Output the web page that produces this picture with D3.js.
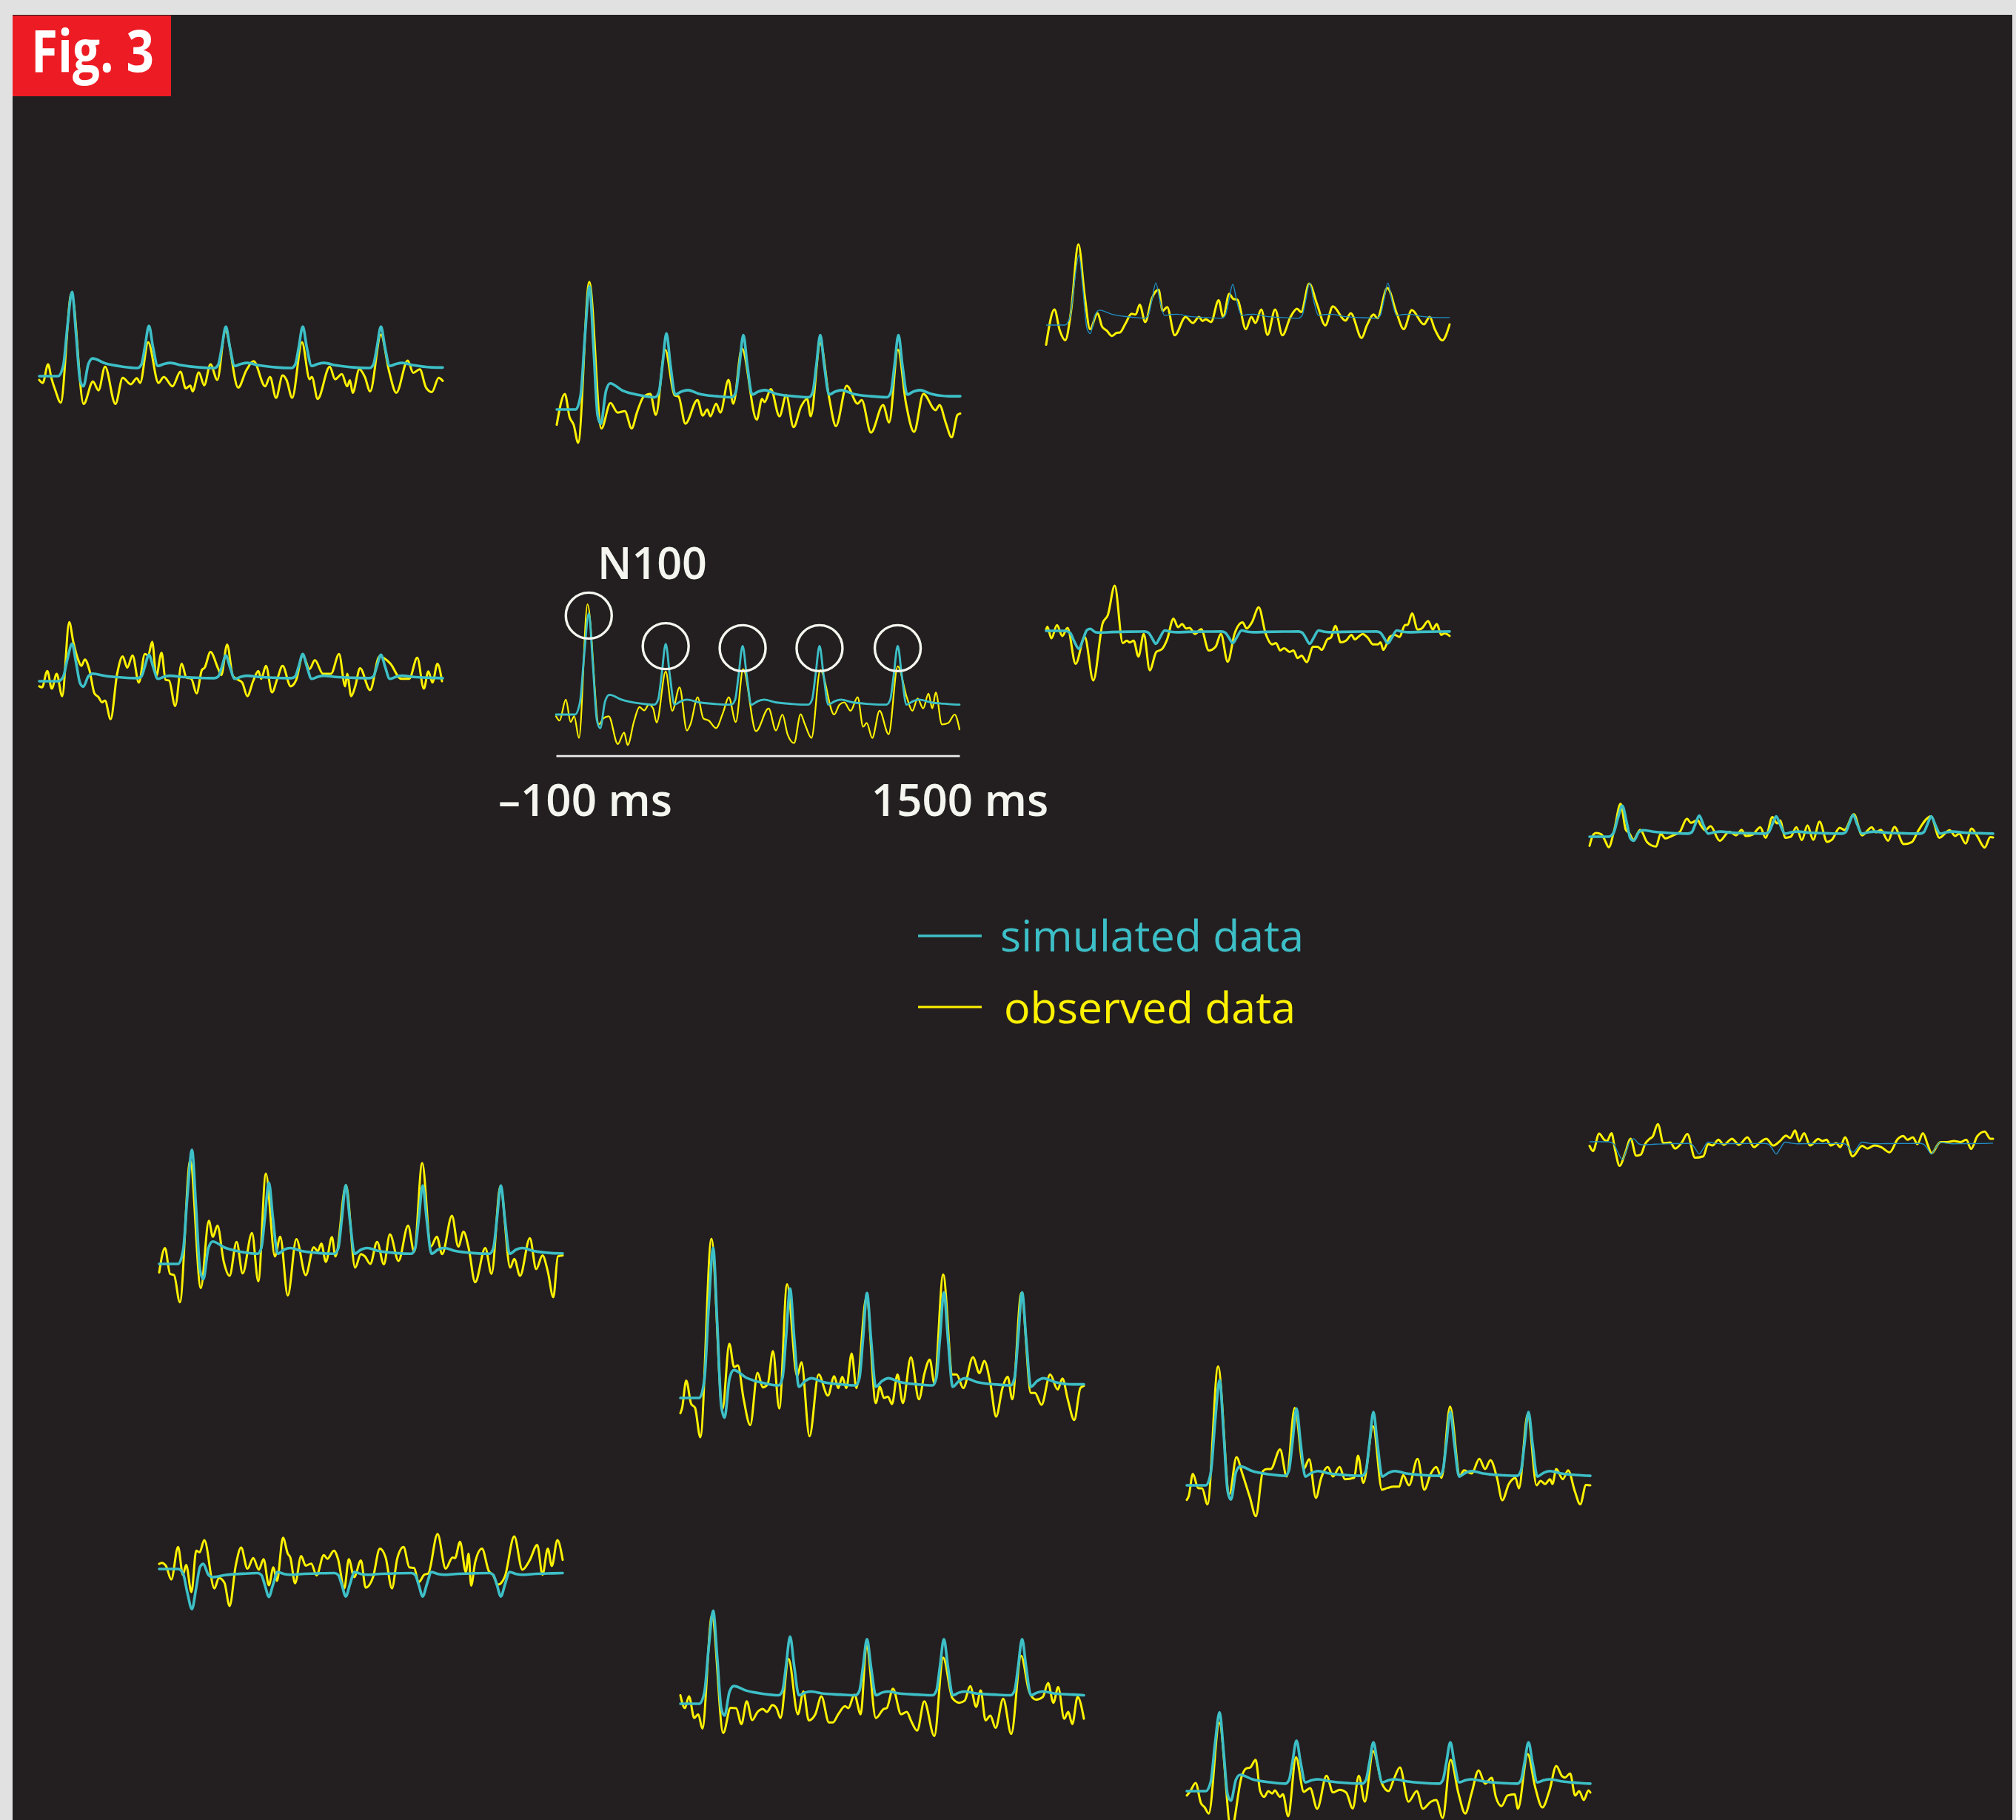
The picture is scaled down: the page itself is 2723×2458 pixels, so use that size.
<!DOCTYPE html>
<html>
<head>
<meta charset="utf-8">
<script src="https://cdn.jsdelivr.net/npm/d3@7/dist/d3.min.js"></script>
<style>
  html, body { margin: 0; padding: 0; background: #e1e1e1; }
  svg { display: block; }
</style>
</head>
<body>
<script>
// ---------------------------------------------------------------------------
// Evoked responses to five tones: simulated (model) vs observed (recorded)
// Time axis in ms (-100 .. 1500), amplitude in arbitrary units (µV-like).
// ---------------------------------------------------------------------------

// Sample times of the simulated waveforms (shared by every channel)
const simTimes = [-100, -25, -5, 12, 30, 46, 62, 75, 95, 112, 160, 230,
  290, 305, 319, 335, 351, 370, 395, 420, 465, 535,
  595, 610, 624, 640, 656, 675, 700, 725, 770, 840,
  900, 915, 929, 945, 961, 980, 1005, 1030, 1075, 1145,
  1210, 1225, 1239, 1255, 1271, 1290, 1315, 1340, 1385, 1455, 1500];

// N100 latencies that are circled on the reference channel
const n100Times = [30, 335, 640, 945, 1255];

// Simulated data, one array per channel
const sim1 = [0,0,1.5,7.4,12.4,6.2,-0.6,-1.5,1.8,2.6,1.9,1.4,
  1.2,1.7,4.3,7.4,4.3,1.5,1.8,1.95,1.6,1.3,
  1.2,1.7,4.25,7.3,4.25,1.5,1.8,1.95,1.6,1.3,
  1.2,1.7,4.25,7.3,4.25,1.5,1.8,1.95,1.6,1.3,
  1.2,1.7,4.25,7.3,4.25,1.5,1.8,1.95,1.6,1.3,
  1.27];
const sim2 = [0,0,2.2,10.9,18.1,9.0,-0.85,-2.1,2.7,3.85,2.8,2.1,
  1.8,2.55,6.5,11.2,6.5,2.2,2.65,2.85,2.3,1.95,
  1.8,2.55,6.4,10.95,6.4,2.2,2.65,2.85,2.3,1.95,
  1.8,2.55,6.4,10.95,6.4,2.2,2.65,2.85,2.3,1.95,
  1.8,2.55,6.4,10.95,6.4,2.2,2.65,2.85,2.3,1.95,
  1.95];
const sim3 = [0,0,1.25,6.2,10.3,5.15,-0.5,-1.25,1.55,2.2,1.6,1.2,
  1.0,1.4,3.6,6.2,3.6,1.4,1.55,1.6,1.3,1.1,
  1.0,1.4,3.5,6.0,3.5,1.4,1.55,1.6,1.3,1.1,
  1.0,1.4,3.6,6.2,3.6,1.4,1.55,1.6,1.3,1.1,
  1.0,1.4,3.6,6.2,3.6,1.4,1.55,1.6,1.3,1.1,
  1.1];
const sim4 = [0,0,0.65,3.3,5.5,2.75,-0.3,-0.8,0.75,1.1,0.8,0.55,
  0.45,0.7,2.2,3.9,2.2,0.35,0.65,0.8,0.62,0.5,
  0.45,0.7,2.1,3.8,2.1,0.35,0.65,0.8,0.62,0.5,
  0.45,0.7,2.2,4.0,2.2,0.35,0.65,0.8,0.62,0.5,
  0.45,0.7,2.2,3.9,2.2,0.35,0.65,0.8,0.62,0.5,
  0.45];
const sim5 = [0,0,1.8,8.9,14.9,7.45,-0.8,-2.0,2.0,2.9,2.2,1.65,
  1.45,2.2,5.9,10.4,5.9,1.45,1.95,2.2,1.8,1.55,
  1.45,2.15,5.8,10.1,5.8,1.45,1.95,2.2,1.8,1.55,
  1.45,2.15,5.8,10.1,5.8,1.45,1.95,2.2,1.8,1.55,
  1.45,2.15,5.8,10.1,5.8,1.45,1.95,2.2,1.8,1.55,
  1.45];
const sim6 = [0,0,-0.3,-1.6,-2.65,-1.3,0.12,0.3,-0.18,-0.25,-0.18,-0.12,
  -0.1,-0.25,-1.0,-1.9,-1.0,0.05,-0.13,-0.2,-0.15,-0.11,
  -0.1,-0.25,-0.95,-1.8,-0.95,0.05,-0.13,-0.2,-0.15,-0.11,
  -0.1,-0.25,-1.0,-1.9,-1.0,0.05,-0.13,-0.2,-0.15,-0.11,
  -0.1,-0.25,-0.98,-1.85,-0.98,0.05,-0.13,-0.2,-0.15,-0.11,
  -0.1];
const sim7 = [0,0,0.55,2.7,4.55,2.3,-0.25,-0.6,0.65,0.95,0.7,0.52,
  0.45,0.65,1.8,3.1,1.8,0.45,0.65,0.75,0.6,0.5,
  0.45,0.65,1.75,3.0,1.75,0.45,0.65,0.75,0.6,0.5,
  0.45,0.65,1.85,3.2,1.85,0.45,0.65,0.75,0.6,0.5,
  0.45,0.65,1.75,3.0,1.75,0.45,0.65,0.75,0.6,0.5,
  0.45];
const sim8 = [0,0,-0.3,-1.55,-2.6,-1.3,0.18,0.45,-0.3,-0.45,-0.35,-0.28,
  -0.25,-0.37,-1.0,-1.8,-1.0,-0.05,-0.2,-0.3,-0.28,-0.26,
  -0.25,-0.37,-1.0,-1.8,-1.0,-0.05,-0.2,-0.3,-0.28,-0.26,
  -0.25,-0.35,-0.9,-1.55,-0.9,-0.05,-0.2,-0.3,-0.28,-0.26,
  -0.25,-0.37,-1.0,-1.8,-1.0,-0.05,-0.2,-0.3,-0.28,-0.26,
  -0.2];
const sim9 = [0,0,2.0,10.1,16.8,8.4,-0.9,-2.25,2.3,3.3,2.4,1.75,
  1.5,2.35,6.75,12.0,6.75,1.5,2.1,2.35,1.9,1.6,
  1.5,2.3,6.55,11.6,6.55,1.5,2.1,2.35,1.9,1.6,
  1.5,2.3,6.5,11.55,6.5,1.5,2.1,2.35,1.9,1.6,
  1.5,2.3,6.5,11.55,6.5,1.5,2.1,2.35,1.9,1.6,
  1.55];
const sim10 = [0,0,2.65,13.3,22.1,11.05,-1.15,-2.9,2.9,4.1,3.0,2.2,
  1.85,3.0,9.0,16.1,9.0,1.65,2.5,2.9,2.35,2.0,
  1.85,2.95,8.65,15.45,8.65,1.65,2.5,2.9,2.35,2.0,
  1.85,2.95,8.7,15.55,8.7,1.65,2.5,2.9,2.35,2.0,
  1.85,2.95,8.7,15.55,8.7,1.65,2.5,2.9,2.35,2.0,
  2.0];
const sim11 = [0,0,1.85,9.3,15.5,7.75,-0.85,-2.1,1.95,2.8,2.1,1.6,
  1.4,2.2,6.35,11.3,6.35,1.3,1.85,2.1,1.75,1.5,
  1.4,2.15,6.1,10.8,6.1,1.3,1.85,2.1,1.75,1.5,
  1.4,2.15,6.1,10.8,6.1,1.3,1.85,2.1,1.75,1.5,
  1.4,2.15,6.1,10.8,6.1,1.3,1.85,2.1,1.75,1.5,
  1.4];
const sim12 = [0,0,-0.7,-3.55,-5.9,-2.95,0.3,0.75,-0.85,-1.2,-0.9,-0.7,
  -0.6,-0.88,-2.35,-4.1,-2.35,-0.45,-0.73,-0.85,-0.73,-0.64,
  -0.6,-0.88,-2.3,-4.05,-2.3,-0.45,-0.73,-0.85,-0.73,-0.64,
  -0.6,-0.88,-2.3,-4.05,-2.3,-0.45,-0.73,-0.85,-0.73,-0.64,
  -0.6,-0.88,-2.3,-4.05,-2.3,-0.45,-0.73,-0.85,-0.73,-0.64,
  -0.6];
const sim13 = [0,0,1.65,8.2,13.7,6.85,-0.7,-1.75,1.8,2.6,1.95,1.45,
  1.25,1.95,5.6,9.9,5.6,1.25,1.65,1.8,1.5,1.35,
  1.25,1.9,5.4,9.5,5.4,1.25,1.65,1.8,1.5,1.35,
  1.25,1.9,5.4,9.5,5.4,1.25,1.65,1.8,1.5,1.35,
  1.25,1.9,5.4,9.5,5.4,1.25,1.65,1.8,1.5,1.35,
  1.25];
const sim14 = [0,0,1.4,7.0,11.6,5.8,-0.55,-1.4,1.7,2.4,1.75,1.3,
  1.1,1.6,4.3,7.45,4.3,1.3,1.6,1.75,1.45,1.2,
  1.1,1.6,4.15,7.2,4.15,1.3,1.6,1.75,1.45,1.2,
  1.1,1.6,4.15,7.2,4.15,1.3,1.6,1.75,1.45,1.2,
  1.1,1.6,4.15,7.2,4.15,1.3,1.6,1.75,1.45,1.2,
  1.1];

// Observed data, [time ms, amplitude] at each turning point
const obs1 = [[-100,-0.55],[-86,-1.0],[-65,1.75],[-52,-0.25],[-36,-2.1],[-15,-3.9],[28,12.2],[76,-4.1],[113,-0.8],[135,-2.1],[161,1.4],[202,-4.1],[231,-0.25],[263,-1.2],[287,-0.3],[300,-1.0],[332,5.0],[373,-1.0],[394,-0.1],[428,-1.5],[460,0.65],[481,-1.8],[499,-1.4],[508,-2.25],[533,0.55],[554,-1.35],[579,1.75],[606,-0.55],[638,6.65],[689,-1.7],[721,0.85],[750,2.2],[796,-1.5],[815,-0.1],[839,-3.2],[865,0.1],[881,-0.6],[903,-3.2],[942,5.0],[972,-0.45],[981,-0.1],[1004,-3.35],[1052,1.4],[1073,-0.45],[1100,0.3],[1121,-1.5],[1132,-0.6],[1143,-2.45],[1169,1.0],[1191,-0.1],[1212,-2.25],[1255,6.1],[1287,0.75],[1316,-2.45],[1361,2.3],[1383,0.5],[1409,1.0],[1434,-1.7],[1457,-2.35],[1484,-0.25],[1500,-0.7]];
const obs2 = [[-100,-2.25],[-68,2.3],[-49,-1.15],[-33,-2.25],[-15,-4.9],[29,18.8],[77,-2.8],[113,0.95],[141,-0.45],[170,-0.25],[197,-2.8],[218,-0.45],[245,1.9],[271,2.3],[293,-0.8],[330,8.8],[367,2.1],[383,1.9],[410,-2.1],[458,1.4],[479,-0.9],[497,0],[509,-1.0],[532,0.85],[549,-0.45],[581,4.35],[600,0.85],[634,9.0],[693,-1.5],[714,1.55],[724,1.1],[749,3.0],[783,-1.0],[810,2.1],[839,-2.6],[869,0.45],[893,1.55],[907,-1.0],[945,9.75],[980,1.75],[1007,-2.45],[1050,3.5],[1093,0.85],[1109,1.4],[1146,-3.4],[1194,0.65],[1218,-1.9],[1253,8.8],[1285,0.85],[1317,-3.3],[1354,2.3],[1402,-0.1],[1418,0.65],[1442,-1.9],[1466,-4.1],[1489,-0.8],[1500,-0.6]];
const obs3 = [[-100,-2.9],[-67,2.3],[-46,-0.8],[-24,-2.25],[-1,2.1],[28,11.9],[53,4.3],[74,-0.6],[104,1.75],[122,-0.25],[140,-0.8],[161,-1.6],[180,-1.15],[193,-1.1],[213,0.1],[239,1.65],[255,1.55],[271,3.0],[293,0.45],[319,3.9],[346,5.2],[362,2.1],[380,2.65],[410,-1.5],[453,1.2],[482,0.3],[506,1.2],[520,0.6],[533,0.85],[554,0.45],[584,3.65],[602,1.2],[626,4.6],[642,3.85],[658,3.75],[692,-0.6],[714,1.2],[730,0.3],[753,2.3],[778,-1.45],[808,2.3],[837,-1.5],[869,1.2],[895,2.4],[911,1.9],[943,6.1],[975,3.0],[1007,-0.05],[1037,2.75],[1087,0.65],[1108,1.75],[1151,-1.9],[1172,-0.05],[1199,1.55],[1213,1.0],[1253,5.45],[1290,1.75],[1318,-0.6],[1350,2.2],[1398,0.1],[1421,1.2],[1441,-0.6],[1471,-2.25],[1500,0.1]];
const obs4 = [[-100,-0.75],[-89,-0.9],[-68,1.5],[-50,-1.1],[-31,1.1],[-9,-2.2],[19,8.7],[35,5.8],[55,3.1],[67,2.25],[81,3.2],[99,1.65],[119,-1.8],[135,-2.35],[149,-3.1],[161,-2.85],[183,-5.6],[209,1.1],[231,3.65],[249,2.0],[270,3.8],[295,-0.2],[319,4.0],[332,3.8],[348,5.8],[364,0.75],[385,4.2],[401,0.2],[415,0.1],[439,-3.65],[465,2.6],[483,0.55],[503,0.35],[524,-1.8],[545,1.65],[556,2.0],[579,4.3],[609,1.9],[622,0.9],[645,5.4],[668,0.75],[689,0.2],[705,-0.2],[725,-2.2],[748,0],[769,1.5],[780,0.35],[799,2.25],[823,-1.65],[844,0.35],[865,2.25],[897,-0.75],[919,0.2],[945,3.8],[972,1.8],[993,3.1],[1025,1.1],[1057,1.1],[1089,4.0],[1113,-0.75],[1121,1.1],[1137,-2.2],[1153,-0.75],[1172,1.9],[1212,-1.3],[1249,3.65],[1292,2.6],[1335,0.35],[1367,0.35],[1399,3.45],[1425,-1.1],[1443,1.45],[1459,-0.2],[1479,2.55],[1497,0]];
const obs5 = [[-100,-0.25],[-86,-0.9],[-61,2.2],[-42,-1.1],[-28,-0.25],[-9,-3.45],[25,16.25],[70,-1.45],[88,-0.55],[109,-0.25],[145,-4.35],[170,-2.65],[184,-4.5],[210,-0.9],[231,1.1],[250,0.6],[268,1.45],[285,0.9],[299,-1.2],[335,6.35],[361,0.55],[390,4.0],[419,-2.35],[433,-1.45],[462,2.55],[484,-0.55],[506,-0.9],[534,-2.0],[563,0.35],[585,2.55],[613,-1.1],[642,6.7],[693,-2.45],[743,0.9],[772,-2.35],[798,0],[818,-2.9],[844,-4.2],[870,0.05],[887,-1.45],[913,-3.45],[948,6.55],[1003,0],[1024,1.45],[1043,1.8],[1068,0.55],[1096,2.55],[1118,-1.8],[1132,-1.25],[1154,-3.45],[1183,0.55],[1219,-2.9],[1255,7.1],[1291,2.55],[1313,0.55],[1334,2.35],[1356,0.9],[1377,3.1],[1392,0.9],[1406,3.25],[1430,-1.45],[1455,-1.25],[1481,0],[1500,-2.2]];
const obs6 = [[-100,0.2],[-95,0.6],[-79,-1.1],[-57,0.85],[-36,-0.75],[-15,0.45],[17,-4.85],[53,-0.9],[87,-7.3],[124,1.1],[145,2.35],[172,6.65],[204,-1.8],[220,-1.45],[231,-1.7],[247,-1.45],[266,-3.8],[287,-0.45],[311,-5.8],[337,-3.1],[359,-2.7],[380,-1.25],[405,1.8],[423,0.55],[439,1.0],[455,0.35],[469,0.45],[490,-0.45],[515,0.25],[545,-2.9],[572,-2.35],[593,-0.45],[620,-4.55],[647,-0.45],[679,1.25],[695,0.35],[716,1.25],[743,3.45],[770,-0.35],[796,-2.0],[812,-1.8],[828,-2.9],[844,-2.55],[865,-3.1],[881,-2.9],[897,-4.0],[913,-3.65],[933,-4.6],[959,-2.35],[977,-2.35],[993,-2.8],[1015,-1.25],[1029,-1.0],[1047,0.75],[1068,-1.7],[1089,-1.45],[1111,-0.6],[1124,-1.25],[1139,-0.85],[1155,-0.45],[1175,-1.0],[1196,-2.0],[1215,-2.0],[1226,-1.7],[1237,-2.8],[1264,-0.85],[1283,-0.6],[1301,-0.9],[1323,0.85],[1334,0.9],[1351,2.55],[1373,0.2],[1389,0.35],[1415,1.45],[1433,0.2],[1449,1.0],[1467,-0.6],[1480,-0.35],[1500,-0.75]];
const obs7 = [[-100,-1.35],[-84,0.35],[-73,0.55],[-53,0.35],[-40,-0.45],[-24,-1.55],[-2,1.0],[23,4.85],[44,1.0],[57,0.55],[74,-0.45],[101,1.0],[128,-0.8],[144,-1.25],[164,-1.45],[182,0.45],[201,-0.25],[220,0],[242,0.35],[258,0.7],[286,2.65],[302,2.05],[329,2.45],[340,1.75],[359,0.95],[380,1.55],[416,-0.6],[454,0.75],[481,0.2],[503,1.0],[519,0.1],[546,0.3],[577,1.4],[598,-0.15],[625,2.9],[644,1.95],[655,2.4],[677,-0.15],[698,0],[720,1.4],[742,-0.5],[764,1.65],[787,-0.45],[812,2.2],[842,-0.75],[861,-0.45],[892,1.3],[911,1.0],[948,3.3],[981,0.2],[1019,1.4],[1035,0.65],[1055,1.0],[1084,-0.6],[1109,1.45],[1146,-1.1],[1178,-0.8],[1203,0.85],[1254,3.0],[1287,-0.15],[1328,0.95],[1350,0.1],[1366,0.45],[1391,-1.0],[1415,1.2],[1437,0.1],[1467,-1.6],[1489,-0.05],[1500,-0.1]];
const obs8 = [[-100,-0.6],[-86,-1.35],[-62,1.2],[-42,0.3],[-31,0.1],[-13,1.25],[2,-1.35],[19,-3.55],[41,-1.7],[63,0.45],[85,-2.05],[103,-1.9],[120,-0.35],[139,0.45],[150,0.75],[171,2.6],[193,-0.2],[220,-0.1],[239,-1.0],[266,-0.1],[288,1.15],[318,-2.35],[351,-2.15],[370,-0.35],[388,-0.55],[411,0.3],[432,-0.45],[465,0.45],[492,-0.45],[526,0.65],[552,-0.8],[573,-0.2],[601,0.45],[628,-0.55],[655,0.1],[679,0.9],[696,0.55],[715,1.65],[731,0.05],[751,1.25],[774,-0.55],[807,0.4],[824,0.1],[840,0.3],[856,-0.55],[878,-0.2],[894,-0.8],[913,0.65],[943,-2.15],[981,-0.6],[1002,-1.0],[1030,-0.55],[1057,-0.8],[1090,-1.55],[1122,0.4],[1144,0.85],[1160,0.3],[1182,0.65],[1200,-0.35],[1222,1.25],[1242,-0.55],[1256,-1.7],[1291,-0.05],[1318,-0.05],[1345,0.1],[1372,-0.05],[1394,0.3],[1413,-1.05],[1438,0.85],[1467,1.5],[1489,0.45],[1500,0.45]];
const obs9 = [[-100,-1.25],[-77,2.35],[-57,-1.45],[-41,-1.65],[-18,-5.65],[23,15.25],[65,-3.55],[97,6.35],[113,4.0],[131,5.65],[156,0.35],[179,-1.75],[207,3.25],[231,-1.4],[268,4.55],[293,-2.55],[323,13.3],[359,1.1],[380,4.0],[410,-4.65],[444,3.65],[481,-1.65],[513,2.45],[529,1.9],[543,3.0],[561,0.3],[585,3.95],[599,1.1],[641,11.6],[677,-0.55],[700,1.45],[716,1.1],[737,0],[764,3.25],[791,-0.05],[815,4.35],[849,0.45],[887,5.65],[911,1.8],[943,14.85],[977,2.55],[1001,4.0],[1022,1.45],[1061,7.1],[1086,2.55],[1107,4.75],[1127,2.35],[1153,-2.7],[1193,2.35],[1218,-1.45],[1253,11.45],[1292,-0.55],[1308,0.75],[1331,-1.75],[1370,3.8],[1395,-0.75],[1420,1.25],[1441,-1.1],[1463,-4.9],[1481,1.1],[1500,1.25]];
const obs10 = [[-100,-2.25],[-93,-1.45],[-77,2.55],[-57,-0.9],[-42,-1.45],[-21,-5.8],[23,23.45],[67,-1.65],[94,8.0],[113,4.55],[128,4.8],[150,0],[177,-4.0],[206,3.7],[227,1.55],[246,2.0],[267,6.9],[292,-1.55],[323,16.75],[363,3.2],[380,5.25],[412,-5.65],[448,3.45],[485,0.35],[510,3.2],[526,1.45],[542,3.1],[558,1.45],[579,6.55],[598,1.45],[638,14.9],[675,-0.75],[691,1.65],[707,0],[723,0.2],[739,-0.9],[761,3.45],[782,-0.75],[814,6.0],[846,-0.2],[868,3.65],[889,5.65],[907,2.2],[942,18.2],[979,3.45],[995,3.45],[1022,1.45],[1060,6.0],[1086,3.65],[1105,5.45],[1129,2.2],[1152,-2.75],[1177,1.45],[1198,3.1],[1216,-0.2],[1252,15.45],[1290,0.75],[1306,0.75],[1332,-1.0],[1366,3.45],[1396,1.25],[1415,2.85],[1436,-0.2],[1462,-3.25],[1486,1.45],[1500,1.8]];
const obs11 = [[-100,-2.15],[-92,-1.55],[-76,1.7],[-55,-0.4],[-39,-0.45],[-18,-2.8],[24,17.5],[69,-1.3],[97,4.15],[120,1.75],[150,-1.75],[174,-4.55],[202,2.1],[218,2.4],[233,2.4],[270,5.3],[296,1.3],[328,11.4],[364,2.4],[385,3.85],[412,-1.85],[433,1.1],[459,2.7],[480,1.3],[506,2.7],[527,0.9],[564,1.1],[579,4.35],[600,0.35],[639,8.7],[674,-0.65],[695,-0.4],[721,-0.2],[742,-0.2],[758,1.5],[781,0],[815,3.9],[842,-0.65],[868,1.75],[889,2.7],[910,1.1],[944,11.6],[983,1.4],[999,2.2],[1030,1.75],[1060,3.9],[1083,2.4],[1104,3.7],[1130,1.1],[1151,-2.2],[1177,0.2],[1203,1.1],[1217,-0.45],[1252,10.5],[1287,0],[1303,0.65],[1321,0.2],[1340,0.9],[1350,0.2],[1365,2.4],[1391,0.9],[1412,2.2],[1439,-0.9],[1460,-2.8],[1483,0.05],[1500,0]];
const obs12 = [[-100,0.75],[-90,0.9],[-73,0.45],[-52,-1.55],[-25,3.25],[-6,-0.85],[7,0.6],[28,-3.4],[47,2.7],[60,2.45],[79,4.25],[119,-2.85],[137,-1.3],[159,-2.05],[179,-5.45],[204,0.6],[225,3.15],[250,0.05],[273,1.6],[295,-0.1],[314,1.45],[335,-2.4],[353,0.25],[367,-1.75],[391,4.6],[410,2.25],[420,1.7],[439,-2.1],[463,1.9],[481,0.5],[503,0.8],[524,-0.95],[553,2.05],[567,1.5],[593,2.7],[609,1.5],[634,-2.85],[652,1.45],[673,-1.2],[700,1.25],[719,-2.75],[748,-1.2],[775,3.0],[798,1.7],[823,-2.85],[844,1.55],[869,3.25],[892,0.25],[911,0.15],[929,-1.95],[951,-0.85],[967,-0.65],[1004,5.15],[1036,0.05],[1063,1.7],[1073,1.6],[1093,4.0],[1116,-0.45],[1127,2.25],[1137,-2.45],[1153,1.0],[1180,3.0],[1207,-0.3],[1223,-0.85],[1244,-2.3],[1271,-1.1],[1308,4.8],[1340,-0.1],[1370,1.35],[1399,3.55],[1420,-0.85],[1441,3.0],[1457,0.45],[1479,4.25],[1500,1.35]];
const obs13 = [[-100,1.25],[-82,-0.65],[-66,1.1],[-45,-2.1],[-29,-1.55],[-13,-3.65],[25,13.0],[70,-4.3],[99,-0.6],[121,-0.65],[142,-3.0],[163,0.35],[185,-2.4],[206,-1.2],[227,-0.75],[243,-1.2],[265,-0.2],[281,-0.65],[297,-2.1],[329,6.6],[366,-1.55],[388,1.8],[409,-2.45],[435,-1.55],[459,1.1],[489,-2.75],[505,-2.75],[526,-1.55],[553,-0.35],[566,-0.65],[590,1.35],[615,-1.55],[638,8.6],[675,-2.1],[707,-0.75],[718,-0.65],[743,2.2],[775,-1.55],[798,-1.2],[814,-2.45],[839,-3.95],[867,0.35],[907,-4.75],[942,6.8],[979,0.8],[1006,0.15],[1027,0.45],[1049,2.6],[1073,-0.45],[1091,1.95],[1110,-2.45],[1129,-1.75],[1150,-3.55],[1180,0.75],[1212,-4.45],[1251,7.05],[1283,1.8],[1310,0.6],[1337,1.0],[1358,3.05],[1379,0.15],[1398,2.45],[1422,-2.2],[1438,-1.2],[1454,-3.0],[1475,1.0],[1500,-2.2]];
const obs14 = [[-100,-0.65],[-86,0],[-65,1.2],[-44,-1.75],[-29,-2.4],[-13,-3.3],[29,10.05],[76,-5.7],[118,2.2],[134,3.3],[152,3.5],[173,4.6],[191,0],[207,-0.85],[223,0],[239,-0.35],[249,0.1],[270,-0.85],[281,-0.45],[302,-3.7],[333,5.0],[364,-0.1],[389,0.45],[417,-2.6],[454,2.25],[480,-0.2],[506,0.2],[532,-0.2],[558,-2.55],[582,2.25],[606,-1.55],[639,5.9],[674,1.1],[700,0],[721,1.75],[745,3.5],[779,-1.55],[812,0],[836,-2.6],[868,-1.55],[889,-1.3],[915,-3.95],[946,4.6],[978,-0.45],[1004,-3.3],[1030,-0.2],[1057,3.05],[1083,1.1],[1109,1.95],[1125,-0.8],[1148,-2.2],[1172,-0.65],[1200,-0.45],[1213,-2.6],[1252,5.45],[1281,0.65],[1310,-2.4],[1339,0.2],[1365,3.7],[1388,2.2],[1400,2.0],[1420,2.6],[1440,-0.65],[1456,0],[1474,-1.3],[1493,0.1],[1500,-0.2]];

// Legend and label text
const legendLabels = ["simulated data", "observed data"];
const axisLabels = ["–100 ms", "1500 ms"];
const titleText = "Fig. 3";
const peakLabel = "N100";

// ---------------------------------------------------------------------------
// Layout: where each channel's trace sits on the sheet (left edge, baseline)
// ---------------------------------------------------------------------------
const panels = [
  { x: 53,   y: 508,  sim: sim1,  obs: obs1 },
  { x: 752,  y: 553,  sim: sim2,  obs: obs2 },
  { x: 1413, y: 439,  sim: sim3,  obs: obs3, gap: [597, 820] },
  { x: 53,   y: 920,  sim: sim4,  obs: obs4 },
  { x: 751,  y: 965,  sim: sim5,  obs: obs5, reference: true },
  { x: 1413, y: 852,  sim: sim6,  obs: obs6 },
  { x: 2147, y: 1130, sim: sim7,  obs: obs7 },
  { x: 2147, y: 1542, sim: sim8,  obs: obs8, gap: [894, 1133] },
  { x: 215,  y: 1707, sim: sim9,  obs: obs9 },
  { x: 919,  y: 1888, sim: sim10, obs: obs10 },
  { x: 1603, y: 2006, sim: sim11, obs: obs11 },
  { x: 215,  y: 2119, sim: sim12, obs: obs12 },
  { x: 919,  y: 2301, sim: sim13, obs: obs13 },
  { x: 1603, y: 2419, sim: sim14, obs: obs14 }
];

const W = 2723, H = 2458;
const COL_SIM = "#3dbfc7";
const COL_SIM_THIN = "#1f8fc6";
const COL_OBS = "#fff200";
const COL_BG = "#231f20";
const COL_TEXT = "#f4f6ef";
const FONT = "'Open Sans', 'Noto Sans', sans-serif";

const svg = d3.select("body").append("svg")
  .attr("width", W).attr("height", H)
  .attr("viewBox", `0 0 ${W} ${H}`);

svg.append("rect").attr("width", W).attr("height", H).attr("fill", "#e1e1e1");
svg.append("rect").attr("x", 17).attr("y", 20)
  .attr("width", W - 17 - 5).attr("height", H - 20).attr("fill", COL_BG);

// Shared scales: every channel uses the same time and amplitude scaling
const x = d3.scaleLinear().domain([-100, 1500]).range([0, 545]);
const y = d3.scaleLinear().domain([-1, 1]).range([9.167, -9.167]);

const simLine = d3.line()
  .x((d, i) => x(simTimes[i]))
  .y(d => y(d))
  .curve(d3.curveMonotoneX);

const obsLine = d3.line()
  .x(d => x(d[0]))
  .y(d => y(d[1]))
  .curve(d3.curveMonotoneX);

const defs = svg.append("defs");

panels.forEach((p, k) => {
  const g = svg.append("g").attr("transform", `translate(${p.x},${p.y})`);
  const wSim = p.reference ? 2.8 : 3.6;
  const wObs = p.reference ? 2.2 : 3.0;

  g.append("path")
    .attr("d", obsLine(p.obs))
    .attr("fill", "none")
    .attr("stroke", COL_OBS)
    .attr("stroke-width", wObs)
    .attr("stroke-linejoin", "round")
    .attr("stroke-linecap", "round");

  const simPath = g.append("path")
    .attr("d", simLine(p.sim))
    .attr("fill", "none")
    .attr("stroke", COL_SIM)
    .attr("stroke-width", wSim)
    .attr("stroke-linejoin", "round")
    .attr("stroke-linecap", "round");

  if (p.gap) {
    // thin model trace shows where the thick one is interrupted
    g.insert("path", () => simPath.node())
      .attr("d", simLine(p.sim))
      .attr("fill", "none")
      .attr("stroke", COL_SIM_THIN)
      .attr("stroke-width", 1.4);
    const id = "clip-gap-" + k;
    const cp = defs.append("clipPath").attr("id", id)
      .attr("clipPathUnits", "userSpaceOnUse");
    cp.append("rect").attr("x", p.x - 20).attr("y", p.y - 300)
      .attr("width", x(p.gap[0]) + 20).attr("height", 600);
    cp.append("rect").attr("x", p.x + x(p.gap[1])).attr("y", p.y - 300)
      .attr("width", 600).attr("height", 600);
    simPath.attr("clip-path", `url(#${id})`);
  }

  if (p.reference) {
    // circles around each N100 peak of the model
    const peaks = n100Times.map(t => ({ t, v: p.sim[simTimes.indexOf(t)] }));
    g.selectAll("circle.n100").data(peaks).join("circle")
      .attr("class", "n100")
      .attr("cx", d => x(d.t))
      .attr("cy", d => y(d.v) + 3)
      .attr("r", 31)
      .attr("fill", "none")
      .attr("stroke", "#f4f6ef")
      .attr("stroke-width", 3.4);

    g.append("text")
      .attr("x", 56).attr("y", -183)
      .attr("fill", COL_TEXT)
      .attr("textLength", 148)
      .attr("lengthAdjust", "spacingAndGlyphs")
      .style("font-family", FONT)
      .style("font-weight", 600)
      .style("font-size", "60px")
      .text(peakLabel);

    // time scale bar
    const axis = d3.axisBottom(x)
      .tickValues([-100, 1500])
      .tickFormat((d, i) => axisLabels[i])
      .tickSize(0)
      .tickSizeOuter(0)
      .tickPadding(39);
    const ag = g.append("g").attr("transform", "translate(0,55.7)").call(axis);
    ag.select(".domain").attr("stroke", "#ececec").attr("stroke-width", 2.7);
    ag.selectAll("text")
      .attr("fill", COL_TEXT)
      .style("font-family", FONT)
      .style("font-weight", 600)
      .style("font-size", "60px")
      .attr("dx", (d, i) => i === 0 ? 39 : 0);
  }
});

// Legend
const legend = svg.append("g");
const legendRows = [
  { label: legendLabels[0], color: COL_SIM, y: 1264, w: 3.5, tx: 1351, ty: 1285, len: 410 },
  { label: legendLabels[1], color: COL_OBS, y: 1360, w: 3.0, tx: 1356, ty: 1382, len: 394 }
];
legendRows.forEach(r => {
  legend.append("line")
    .attr("x1", 1240).attr("x2", 1326)
    .attr("y1", r.y).attr("y2", r.y)
    .attr("stroke", r.color).attr("stroke-width", r.w);
  legend.append("text")
    .attr("x", r.tx).attr("y", r.ty)
    .attr("fill", r.color)
    .attr("textLength", r.len)
    .attr("lengthAdjust", "spacingAndGlyphs")
    .style("font-family", FONT)
    .style("font-size", "58px")
    .text(r.label);
});

// Figure tag
svg.append("rect").attr("x", 17).attr("y", 21).attr("width", 214).attr("height", 109)
  .attr("fill", "#ed1c24");
svg.append("text")
  .attr("x", 42).attr("y", 97)
  .attr("fill", "#ffffff")
  .attr("textLength", 166)
  .attr("lengthAdjust", "spacingAndGlyphs")
  .style("font-family", FONT)
  .style("font-weight", 700)
  .style("font-size", "78px")
  .text(titleText);
</script>
</body>
</html>
